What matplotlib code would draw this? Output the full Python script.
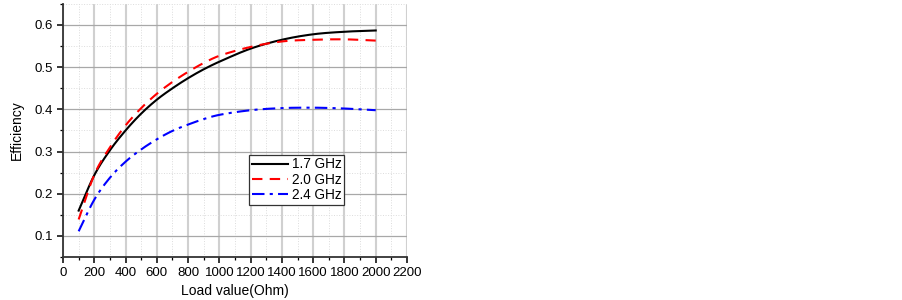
import numpy as np
import matplotlib.pyplot as plt
from matplotlib.ticker import MultipleLocator

plt.rcParams['font.family'] = ['Liberation Sans', 'DejaVu Sans']

# load values (Ohm)
load = [100, 200, 300, 400, 500, 600, 700, 800, 900, 1000, 1200, 1400, 1600, 1800, 2000]

# efficiency for each frequency
eff_17 = [0.160, 0.244, 0.303, 0.350, 0.390, 0.423, 0.450, 0.474, 0.495, 0.513, 0.544, 0.565, 0.578, 0.584, 0.587]
eff_20 = [0.139, 0.245, 0.310, 0.362, 0.403, 0.437, 0.465, 0.489, 0.510, 0.527, 0.548, 0.561, 0.565, 0.566, 0.563]
eff_24 = [0.111, 0.186, 0.238, 0.276, 0.305, 0.329, 0.349, 0.364, 0.377, 0.387, 0.398, 0.403, 0.404, 0.402, 0.398]

labels = ['1.7 GHz', '2.0 GHz', '2.4 GHz']

fig = plt.figure(figsize=(9.03, 3.0), dpi=100)
ax = fig.add_axes([0.0698, 0.1433, 0.3809, 0.8437])

xs = np.linspace(100, 2000, 400)


def smooth(vals):
    # cubic hermite through the read points
    x = np.array(load, dtype=float)
    y = np.array(vals)
    res = []
    for xv in xs:
        i = np.searchsorted(x, xv) - 1
        i = min(max(i, 0), len(x) - 2)
        x0, x1 = x[i], x[i + 1]
        y0, y1 = y[i], y[i + 1]
        m0 = (y[i + 1] - y[i - 1]) / (x[i + 1] - x[i - 1]) if i > 0 else (y1 - y0) / (x1 - x0)
        m1 = (y[i + 2] - y[i]) / (x[i + 2] - x[i]) if i + 2 < len(x) else (y1 - y0) / (x1 - x0)
        h = x1 - x0
        t = (xv - x0) / h
        h00 = 2 * t**3 - 3 * t**2 + 1
        h10 = t**3 - 2 * t**2 + t
        h01 = -2 * t**3 + 3 * t**2
        h11 = t**3 - t**2
        res.append(h00 * y0 + h10 * h * m0 + h01 * y1 + h11 * h * m1)
    return np.array(res)


ax.plot(xs, smooth(eff_17), color='black', lw=1.5, label=labels[0])
ax.plot(xs, smooth(eff_20), color='red', lw=1.5, ls=(0, (5, 3.5)), label=labels[1])
ax.plot(xs, smooth(eff_24), color='blue', lw=1.5, ls=(0, (6, 2.5, 1.5, 2.5)), label=labels[2])

ax.set_xlim(0, 2200)
ax.set_ylim(0.05, 0.65)
ax.xaxis.set_major_locator(MultipleLocator(200))
ax.xaxis.set_minor_locator(MultipleLocator(100))
ax.yaxis.set_minor_locator(MultipleLocator(0.05))
ax.set_yticks([0.1, 0.2, 0.3, 0.4, 0.5, 0.6])

ax.grid(which='major', axis='x', color='#d0d0d0', lw=1.5)
ax.grid(which='major', axis='y', color='#a8a8a8', lw=0.9)
ax.grid(which='minor', color='#dcdcdc', lw=0.7, ls=':')
ax.set_axisbelow(True)

for s in ['top', 'right']:
    ax.spines[s].set_visible(False)
for s in ['left', 'bottom']:
    ax.spines[s].set_linewidth(1.3)
    ax.spines[s].set_color('#333333')

ax.tick_params(which='major', direction='out', length=4, width=1.1, labelsize=9.5, pad=3)
ax.tick_params(which='minor', direction='out', length=2.5, width=0.9)

ax.set_xlabel('Load value(Ohm)', fontsize=10, labelpad=4)
ax.set_ylabel('Efficiency', fontsize=10, labelpad=8)

leg = ax.legend(loc='upper left', bbox_to_anchor=(0.542, 0.404), fontsize=9.8,
                handlelength=2.6, fancybox=False, framealpha=1, edgecolor='#333333',
                borderpad=0.2, labelspacing=0.1, handletextpad=0.3, borderaxespad=0)
leg.get_frame().set_linewidth(0.9)

fig.savefig('out.png', dpi=100)
